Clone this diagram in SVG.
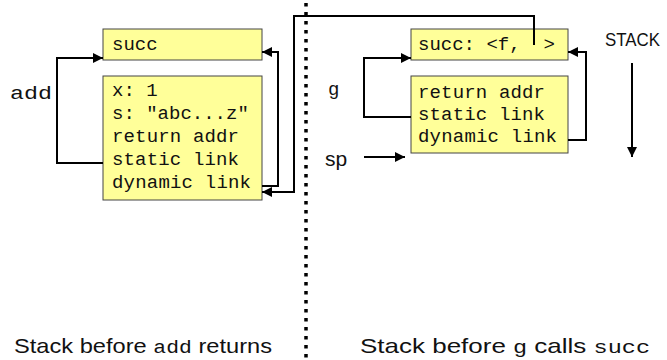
<svg xmlns="http://www.w3.org/2000/svg" width="667" height="360" viewBox="0 0 667 360">
<style>
.box{fill:#ffff99;stroke:#444;stroke-width:1}
.mono{font-family:"Liberation Mono","DejaVu Sans Mono",monospace;font-size:19px;fill:#111;white-space:pre}
.sans{font-family:"Liberation Sans","DejaVu Sans",sans-serif;fill:#111}
.conn{fill:none;stroke:#000;stroke-width:2}
</style>
<defs>
<marker id="ah" viewBox="0 0 10 10" refX="10" refY="5" markerWidth="11" markerHeight="10" markerUnits="userSpaceOnUse" orient="auto">
<path d="M0,0 L10,5 L0,10 Z" fill="#000"/>
</marker>
</defs>
<rect width="667" height="360" fill="#fff"/>
<line x1="306" y1="3" x2="306" y2="360" stroke="#000" stroke-width="3.5" stroke-dasharray="3.5 5.5"/>
<g id="left-succ">
<rect class="box" x="103" y="29" width="159" height="31"/>
<text class="mono" x="112" y="50">succ</text>
</g>
<g id="left-frame">
<rect class="box" x="103" y="76" width="159" height="124"/>
<text class="mono" x="112" y="96">x: 1</text>
<text class="mono" x="112" y="119">s: "abc...z"</text>
<text class="mono" x="112" y="142" textLength="127" lengthAdjust="spacing">return addr</text>
<text class="mono" x="112" y="165" textLength="127" lengthAdjust="spacing">static link</text>
<text class="mono" x="112" y="188" textLength="139" lengthAdjust="spacing">dynamic link</text>
</g>
<g id="right-succ">
<rect class="box" x="411" y="29" width="157" height="31"/>
<text class="mono" x="418" y="50" xml:space="preserve">succ: &lt;f,  &gt;</text>
</g>
<g id="right-frame">
<rect class="box" x="411" y="76" width="157" height="77"/>
<text class="mono" x="418" y="98" textLength="127" lengthAdjust="spacing">return addr</text>
<text class="mono" x="418" y="120" textLength="127" lengthAdjust="spacing">static link</text>
<text class="mono" x="418" y="142" textLength="139" lengthAdjust="spacing">dynamic link</text>
</g>
<g id="labels">
<text class="mono" x="10" y="99" textLength="42" lengthAdjust="spacingAndGlyphs">add</text>
<text class="mono" x="328" y="95">g</text>
<text class="sans" x="325" y="166" font-size="21">sp</text>
<text class="sans" x="605" y="46" font-size="18" textLength="55" lengthAdjust="spacingAndGlyphs">STACK</text>
<text class="sans" x="14" y="353" font-size="21" textLength="258" lengthAdjust="spacingAndGlyphs">Stack before <tspan class="mono" font-size="21">add</tspan> returns</text>
<text class="sans" x="360" y="353" font-size="21" textLength="290" lengthAdjust="spacingAndGlyphs">Stack before <tspan class="mono" font-size="21">g</tspan> calls <tspan class="mono" font-size="21">succ</tspan></text>
</g>
<g id="connectors">
<polyline class="conn" points="103,163 57,163 57,58 103,58" marker-end="url(#ah)"/>
<polyline class="conn" points="262,186 278,186 278,52 262,52" marker-end="url(#ah)"/>
<polyline class="conn" points="534,45 534,16 294,16 294,192 262,192" marker-end="url(#ah)"/>
<polyline class="conn" points="411,117 364,117 364,58 411,58" marker-end="url(#ah)"/>
<polyline class="conn" points="568,140 586,140 586,52 568,52" marker-end="url(#ah)"/>
<line class="conn" x1="364" y1="157" x2="405" y2="157" marker-end="url(#ah)"/>
<line class="conn" x1="632" y1="63" x2="632" y2="157" marker-end="url(#ah)"/>
</g>
</svg>
